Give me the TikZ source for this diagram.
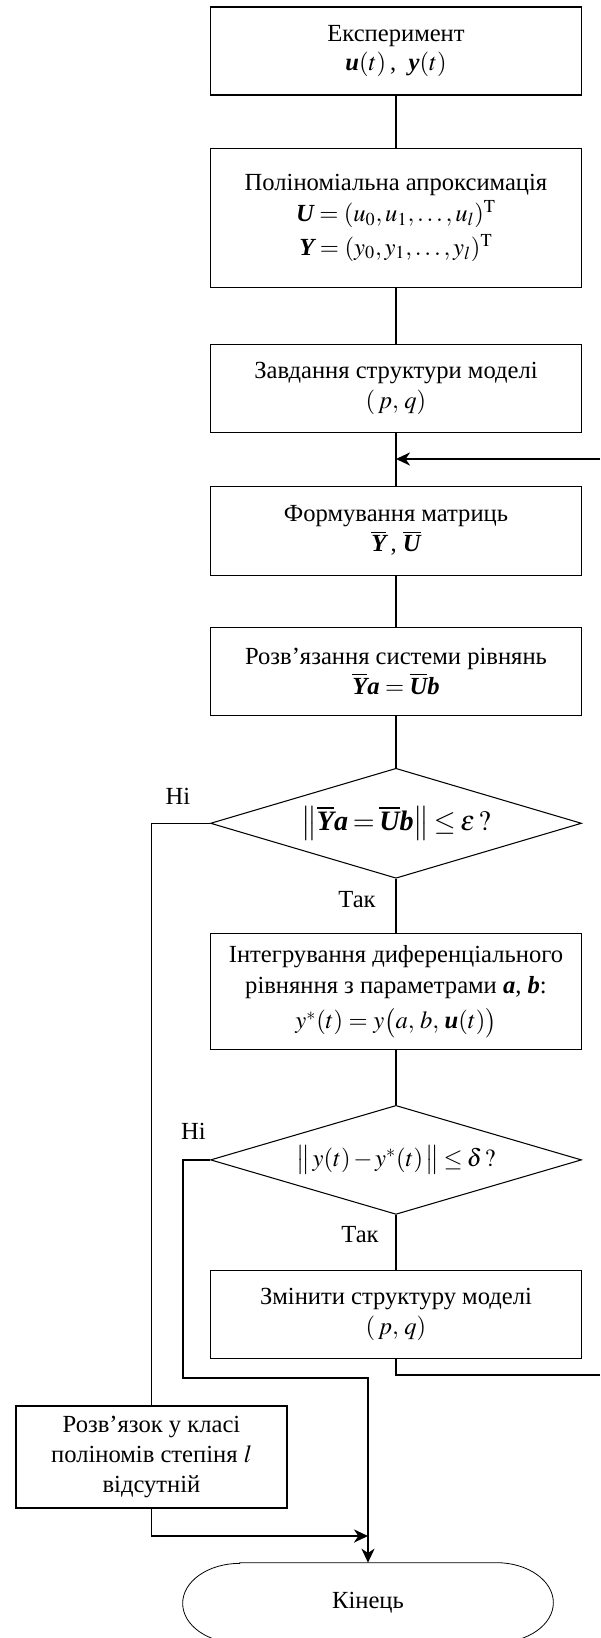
\documentclass[tikz,border=0pt]{standalone}
\usepackage{amsmath}
\usepackage{mathptmx}
\usepackage[no-math]{fontspec}
\setmainfont{Liberation Serif}
\usepackage{tikz}
\usetikzlibrary{shapes.geometric}
\usetikzlibrary{calc,arrows.meta,positioning}
\newcommand{\bv}[1]{\mbox{\bfseries\itshape #1}}
\tikzset{
    every node/.style={font=\fontsize{14}{17}\selectfont},
    block/.style={draw,line width=0.6pt,minimum width=7.42cm,minimum height=1.76cm,align=center,inner sep=2pt},
    decision/.style={draw,diamond,line width=0.6pt,aspect=3.36,minimum width=7.42cm,minimum height=2.2cm,inner sep=0pt}
}

\begin{document}
\begin{tikzpicture}[
            > = {Stealth[length=8pt,width=7.5pt,inset=2.5pt]}, % arrow head style
            link/.style = {line width=0.6pt}, % short links between blocks
            route/.style = {line width=0.85pt} % longer routed lines
        ]

        \useasboundingbox (0,0) rectangle (12,-32.76);

        \node[block] (exp) at (7.92,-1.02) {Експеримент\\ $\bv{u}(t)$\,,\ \ $\bv{y}(t)$};
        \node[block,minimum height=2.78cm] (approx) [below=1.04cm of exp] {Поліноміальна апроксимація\\[1pt] $\bv{U} = (u_0, u_1, \ldots, u_l)^{\mathrm{T}}$\\[2pt] $\bv{Y} = (y_0, y_1, \ldots, y_l)^{\mathrm{T}}$};
        \node[block] (struct) [below=1.12cm of approx] {Завдання структури моделі\\ $(\,p,\,q)$};
        \node[block,minimum height=1.78cm] (matr) [below=1.06cm of struct] {Формування матриць\\ $\overline{\bv{Y}}$\,,\ $\overline{\bv{U}}$};
        \node[block] (solve) [below=1.02cm of matr] {Розв’язання системи рівнянь\\ $\overline{\bv{Y}}\bv{a} = \overline{\bv{U}}\bv{b}$};
        \node[decision] (chk1) [below=1.04cm of solve] {\fontsize{16}{19}\selectfont \thickmuskip=3mu $\left\|\overline{\bv{Y}}\bv{a} = \overline{\bv{U}}\bv{b}\right\| \le \varepsilon\,?$};
        \node[block,minimum height=2.32cm] (integ) [below=1.08cm of chk1] {Інтегрування диференціального\\[1pt] рівняння з параметрами $\bv{a}$, $\bv{b}$:\\[3pt] $y^{*}(t) = y\big(a,\,b,\,\bv{u}(t)\big)$};
        \node[decision,minimum height=2.18cm] (chk2) [below=1.1cm of integ] {\medmuskip=2mu \thickmuskip=3mu $\big\|\, y(t) - y^{*}(t) \,\big\| \le \delta\,?$};
        \node[block] (change) [below=1.1cm of chk2] {Змінити структуру моделі\\ $(\,p,\,q)$};
        \node[block,minimum width=5.42cm,minimum height=2.04cm] (nosol) at (3.03,-29.14) {Розв’язок у класі\\ поліномів степіня $l$\\ відсутній};
        \node[minimum width=7.4cm,minimum height=1.6cm] (end) at (7.36,-32.06) {Кінець};
        \draw[line width=0.45pt] ([xshift=1.14cm]end.north west) -- ([xshift=-1.14cm]end.north east)
            arc[start angle=90,end angle=-90,x radius=1.14cm,y radius=0.8cm]
            -- ([xshift=1.14cm]end.south west)
            arc[start angle=270,end angle=90,x radius=1.14cm,y radius=0.8cm] -- cycle;

        \node (no1) at (3.56,-15.92) {Ні};
        \node (no2) at (3.87,-22.62) {Ні};
        \node (yes1) at (7.14,-18.0) {Так};
        \node (yes2) at (7.2,-24.7) {Так};

        \coordinate (backin) at (12,-9.18);
        \coordinate (backout) at (12,-27.5);
        \coordinate (j2) at (3.66,-27.56);
        \coordinate (j3) at (7.36,-30.72);

        \draw[link] (exp) -- (approx);
        \draw[link] (approx) -- (struct);
        \draw[link] (struct) -- (matr);
        \draw[link] (matr) -- (solve);
        \draw[link] (solve) -- (chk1);
        \draw[link] (chk1) -- (integ);
        \draw[link] (integ) -- (chk2);
        \draw[link] (chk2) -- (change);

        \draw[route,->] (backin) -- (backin -| struct.south);
        \draw[route] (change.south) |- (backout);
        \draw[route] (chk1.west) -| (nosol.north);
        \draw[route,->] (chk2.west) -| (j2) -| (end.north);
        \draw[route,->] (nosol.south) |- (j3);

\end{tikzpicture}
\end{document}
